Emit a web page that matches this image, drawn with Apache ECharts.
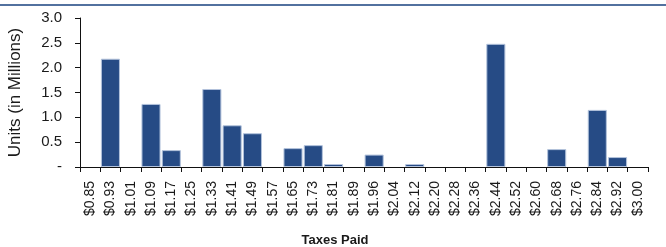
<!DOCTYPE html>
<html>
<head>
    <meta charset="utf-8">
    <title>Taxes Paid</title>
    <script src="https://cdn.jsdelivr.net/npm/echarts@6/dist/echarts.min.js"></script>
    <style>
        html, body { margin: 0; padding: 0; background: #fff; }
        #chart { width: 666px; height: 247px; }
    </style>
</head>
<body>
    <div id="chart"></div>
    <script>
        // price buckets on the x axis
        var categories = ['$0.85', '$0.93', '$1.01', '$1.09', '$1.17', '$1.25', '$1.33', '$1.41',
            '$1.49', '$1.57', '$1.65', '$1.73', '$1.81', '$1.89', '$1.96', '$2.04', '$2.12',
            '$2.20', '$2.28', '$2.36', '$2.44', '$2.52', '$2.60', '$2.68', '$2.76', '$2.84',
            '$2.92', '$3.00'];
        // units in millions
        var units = [0, 2.18, 0, 1.27, 0.34, 0, 1.57, 0.84,
            0.68, 0, 0.38, 0.44, 0.06, 0, 0.25, 0, 0.06,
            0, 0, 0, 2.48, 0, 0, 0.36, 0, 1.15,
            0.20, 0];
        var yTicks = [0, 0.5, 1.0, 1.5, 2.0, 2.5, 3.0];

        var font = 'Liberation Sans, Arial, sans-serif';
        var chart = echarts.init(document.getElementById('chart'));

        // empty buckets draw nothing (no outline at zero)
        var barData = units.map(function (v) { return v === 0 ? null : v; });

        chart.setOption({
            animation: false,
            graphic: [{
                type: 'rect',
                left: 0, top: 4,
                shape: { width: 666, height: 2 },
                style: { fill: '#52719f' }
            }],
            grid: { left: 80, right: 18, top: 18, bottom: 80, outerBoundsMode: 'none' },
            xAxis: {
                type: 'category',
                data: categories,
                name: 'Taxes Paid',
                nameLocation: 'middle',
                nameGap: 67,
                nameTextStyle: {
                    fontFamily: font, fontSize: 13, fontWeight: 'bold', color: '#1a1a1a',
                    padding: [0, 58, 0, 0]
                },
                axisLine: { lineStyle: { color: '#111', width: 1 } },
                axisTick: { show: true, length: 5, lineStyle: { color: '#111' } },
                axisLabel: {
                    rotate: 90, margin: 14, interval: 0,
                    fontFamily: font, fontSize: 14, color: '#1a1a1a'
                }
            },
            yAxis: {
                type: 'value',
                min: yTicks[0],
                max: yTicks[yTicks.length - 1],
                interval: 0.5,
                name: 'Units (in Millions)',
                nameLocation: 'middle',
                nameGap: 56,
                nameTextStyle: { fontFamily: font, fontSize: 17, color: '#1a1a1a' },
                splitLine: { show: false },
                axisLine: { show: true, lineStyle: { color: '#111', width: 1 } },
                axisTick: { show: true, length: 5, lineStyle: { color: '#111' } },
                axisLabel: {
                    margin: 18,
                    fontFamily: font, fontSize: 15, color: '#1a1a1a',
                    formatter: function (v) { return v === 0 ? '-' : v.toFixed(1); }
                }
            },
            series: [{
                type: 'bar',
                data: barData,
                barCategoryGap: '6%',
                itemStyle: {
                    color: '#264b85',
                    borderColor: '#b3c3dc',
                    borderWidth: 1
                }
            }]
        });
    </script>
</body>
</html>
